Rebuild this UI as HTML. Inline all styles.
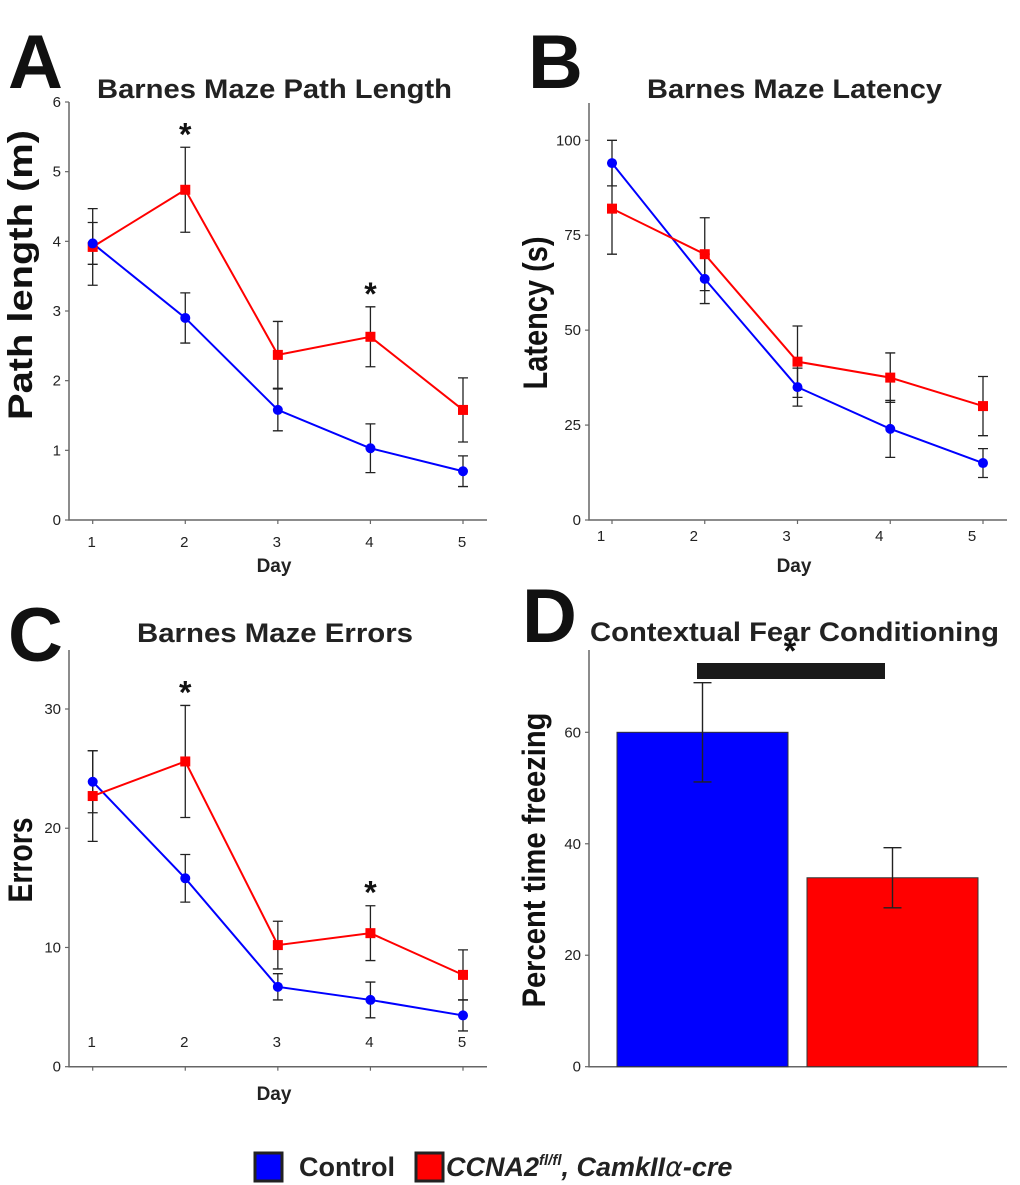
<!DOCTYPE html>
<html><head><meta charset="utf-8"><style>
html,body{margin:0;padding:0;background:#fff}
svg{display:block;font-family:"Liberation Sans",Arial,sans-serif}
</style></head><body>
<svg id="fig" width="1020" height="1185" viewBox="0 0 1020 1185">
<g id="static">
  <text x="8" y="88" font-size="76" font-weight="bold" fill="#111">A</text>
  <text x="97" y="98" font-size="27" font-weight="bold" fill="#222" textLength="355" lengthAdjust="spacingAndGlyphs">Barnes Maze Path Length</text>
  <text x="528" y="88" font-size="76" font-weight="bold" fill="#111">B</text>
  <text x="647" y="98" font-size="27" font-weight="bold" fill="#222" textLength="295" lengthAdjust="spacingAndGlyphs">Barnes Maze Latency</text>
  <text x="8" y="661" font-size="76" font-weight="bold" fill="#111">C</text>
  <text x="137" y="642" font-size="27" font-weight="bold" fill="#222" textLength="276" lengthAdjust="spacingAndGlyphs">Barnes Maze Errors</text>
  <text x="522" y="642" font-size="76" font-weight="bold" fill="#111">D</text>
  <text x="590" y="641" font-size="27" font-weight="bold" fill="#222" textLength="409" lengthAdjust="spacingAndGlyphs">Contextual Fear Conditioning</text>
  <rect x="255" y="1153" width="27" height="28" fill="#0000ff" stroke="#222" stroke-width="3"/>
  <text x="299" y="1176" font-size="27" font-weight="bold" fill="#222">Control</text>
  <rect x="416" y="1153" width="27" height="28" fill="#ff0000" stroke="#222" stroke-width="3"/>
  <text x="446" y="1176" font-size="27" font-weight="bold" font-style="italic" fill="#222">CCNA2<tspan font-size="15" dy="-11">fl/fl</tspan><tspan dy="11">, CamkII</tspan><tspan font-family="DejaVu Sans, sans-serif" font-weight="normal">α</tspan>-cre</text>
</g>
</svg>
<script>
const days = [1,2,3,4,5];
const aBlue = [3.97,2.9,1.58,1.03,0.7];
const aBlueErr = [0.3,0.36,0.3,0.35,0.22];
const aRed = [3.92,4.74,2.37,2.63,1.58];
const aRedErr = [0.55,0.61,0.48,0.43,0.46];
const aTicks = [0,1,2,3,4,5,6];
const bBlue = [94,63.5,35,24,15];
const bBlueErr = [6,6.5,5,7.5,3.8];
const bRed = [82,70,41.7,37.5,30];
const bRedErr = [12,9.6,9.4,6.5,7.8];
const bTicks = [0,25,50,75,100];
const cBlue = [23.9,15.8,6.7,5.6,4.3];
const cBlueErr = [2.6,2,1.1,1.5,1.3];
const cRed = [22.7,25.6,10.2,11.2,7.7];
const cRedErr = [3.8,4.7,2,2.3,2.1];
const cTicks = [0,10,20,30];
const dGroups = ["Control","CCNA2 fl/fl"];
const dValues = [60,33.9];
const dErr = [8.9,5.4];
const dTicks = [0,20,40,60];

const NS="http://www.w3.org/2000/svg";
const svg=document.getElementById('fig');
function mk(tag,attrs,parent){const e=document.createElementNS(NS,tag);for(const k in attrs)e.setAttribute(k,attrs[k]);(parent||svg).appendChild(e);return e;}

function linePanel(o){
  const g=mk('g',{});
  
  
  const xs=d=>o.x1+(d-1)*(o.x5-o.x1)/4;
  const ys=v=>o.y0-(v/o.vmax)*(o.y0-o.yTop);
  const ax=mk('path',{d:`M${o.ax},${o.axTop}V${o.y0}H${o.axEnd}`,fill:'none',stroke:'#666','stroke-width':1.5},g);
  
  
  o.ticks.forEach(t=>{
    mk('line',{x1:o.ax-4,x2:o.ax,y1:ys(t),y2:ys(t),stroke:'#666','stroke-width':1.2},g);
    const tl=mk('text',{x:o.ax-8,y:ys(t)+5,'font-size':15,'text-anchor':'end',fill:'#222'},g);
    tl.textContent=t;
    
    
  });
  days.forEach(d=>{
    mk('line',{x1:xs(d),x2:xs(d),y1:o.y0,y2:o.y0+4,stroke:'#666','stroke-width':1.2},g);
    const tl=mk('text',{x:xs(d)+o.dxLab,y:o.dayLabY,'font-size':15,'text-anchor':'middle',fill:'#222'},g);
    tl.textContent=d;
    
    
  });
  const xt=mk('text',{x:o.dayX,y:o.dayTitleY,'font-size':19,'font-weight':'bold','text-anchor':'middle',fill:'#222'},g);
  xt.textContent='Day';
  
  
  const yt=mk('text',{x:0,y:0,'font-size':o.ytSize,'font-weight':'bold','text-anchor':'middle',fill:'#111',textLength:o.ytLen,lengthAdjust:'spacingAndGlyphs',transform:`translate(${o.ytX},${o.ytY}) rotate(-90)`},g);
  yt.textContent=o.ytitle;
  
  
  [[o.blue,o.blueErr,'control'],[o.red,o.redErr,'mutant']].forEach(([vals,errs,nm])=>{
    vals.forEach((v,i)=>{
      const x=xs(days[i]),yt=ys(v+errs[i]),yb=ys(Math.max(0,v-errs[i]));
      const eb=mk('path',{d:`M${x},${yt}V${yb}M${x-5},${yt}H${x+5}M${x-5},${yb}H${x+5}`,stroke:'#222','stroke-width':1.3,fill:'none'},g);
      
      
    });
  });
  [[o.blue,'#0000ff','control'],[o.red,'#ff0000','mutant']].forEach(([vals,col,nm])=>{
    const l=mk('polyline',{points:vals.map((v,i)=>xs(days[i])+','+ys(v)).join(' '),fill:'none',stroke:col,'stroke-width':2},g);
    
    
  });
  o.red.forEach((v,i)=>{
    const m=mk('rect',{x:xs(days[i])-5,y:ys(v)-5,width:10,height:10,fill:'#ff0000'},g);
    
    
  });
  o.blue.forEach((v,i)=>{
    const m=mk('circle',{cx:xs(days[i]),cy:ys(v),r:5,fill:'#0000ff'},g);
    
    
  });
  (o.stars||[]).forEach(d=>{
    const i=d-1;
    const s=mk('text',{x:xs(d),y:ys(o.red[i]+o.redErr[i])-o.starGap,'font-size':32,'font-weight':'bold','text-anchor':'middle',fill:'#111'},g);
    s.textContent='*';
    
    
  });
}

linePanel({name:'panel-a-path-length',ax:69,axTop:102,axEnd:487,y0:520,yTop:102,vmax:6,x1:92.7,x5:463,ticks:aTicks,
  blue:aBlue,blueErr:aBlueErr,red:aRed,redErr:aRedErr,dxLab:-1,dayLabY:547,dayX:274,dayTitleY:572,
  ytitle:'Path length (m)',ytSize:34,ytLen:290,ytX:32,ytY:275,stars:[2,4],starGap:2});
linePanel({name:'panel-b-latency',ax:589,axTop:103,axEnd:1007,y0:520,yTop:140.3,vmax:100,x1:612,x5:983,ticks:bTicks,
  blue:bBlue,blueErr:bBlueErr,red:bRed,redErr:bRedErr,dxLab:-11,dayLabY:541,dayX:794,dayTitleY:572,
  ytitle:'Latency (s)',ytSize:34,ytLen:153,ytX:547,ytY:313,stars:[],starGap:0});
linePanel({name:'panel-c-errors',ax:69,axTop:650,axEnd:487,y0:1066.7,yTop:709,vmax:30,x1:92.7,x5:463,ticks:cTicks,
  blue:cBlue,blueErr:cBlueErr,red:cRed,redErr:cRedErr,dxLab:-1,dayLabY:1047,dayX:274,dayTitleY:1100,
  ytitle:'Errors',ytSize:34,ytLen:85,ytX:32,ytY:860,stars:[2,4],starGap:2});

// Panel D
(function(){
  const g=mk('g',{});
  
  
  const y0=1066.7,yTop=732.3,vmax=60,ax=589;
  const ys=v=>y0-(v/vmax)*(y0-yTop);
  const barX=[617,807],bw=171;
  const cols=['#0000ff','#ff0000'];
  const axp=mk('path',{d:`M${ax},650V${y0}H1007`,fill:'none',stroke:'#666','stroke-width':1.5},g);
  
  
  dTicks.forEach(t=>{
    mk('line',{x1:ax-4,x2:ax,y1:ys(t),y2:ys(t),stroke:'#666','stroke-width':1.2},g);
    const tl=mk('text',{x:ax-8,y:ys(t)+5,'font-size':15,'text-anchor':'end',fill:'#222'},g);
    tl.textContent=t;
    
    
  });
  dValues.forEach((v,i)=>{
    const b=mk('rect',{x:barX[i],y:ys(v),width:bw,height:y0-ys(v),fill:cols[i],stroke:'#333','stroke-width':1},g);
    
    
  });
  dValues.forEach((v,i)=>{
    const x=barX[i]+bw/2,yt=ys(v+dErr[i]),yb=ys(v-dErr[i]);
    const eb=mk('path',{d:`M${x},${yt}V${yb}M${x-9},${yt}H${x+9}M${x-9},${yb}H${x+9}`,stroke:'#222','stroke-width':1.4,fill:'none'},g);
    
    
  });
  const sb=mk('rect',{x:697,y:663,width:188,height:16,fill:'#1a1a1a'},g);
  
  
  const st=mk('text',{x:790,y:662,'font-size':32,'font-weight':'bold','text-anchor':'middle',fill:'#111'},g);
  st.textContent='*';
  
  
  const yt=mk('text',{x:0,y:0,'font-size':32,'font-weight':'bold','text-anchor':'middle',fill:'#111',textLength:295,lengthAdjust:'spacingAndGlyphs',transform:`translate(545,860) rotate(-90)`},g);
  yt.textContent='Percent time freezing';
  
  
})();
</script>
</body></html>
